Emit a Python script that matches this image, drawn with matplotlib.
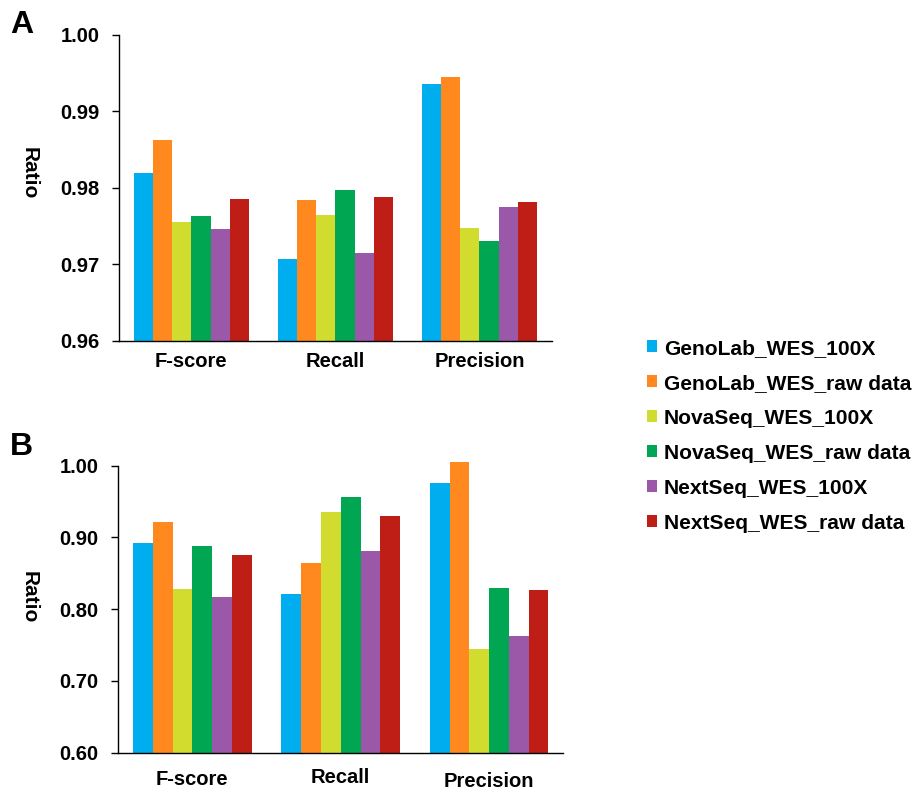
import numpy as np
import matplotlib.pyplot as plt
from matplotlib.patches import Patch
from matplotlib.transforms import ScaledTranslation

plt.rcParams['font.family'] = ['Liberation Sans', 'DejaVu Sans']
plt.rcParams['font.weight'] = 'bold'

metrics = ['F-score', 'Recall', 'Precision']
platforms = ['GenoLab_WES_100X', 'GenoLab_WES_raw data',
             'NovaSeq_WES_100X', 'NovaSeq_WES_raw data',
             'NextSeq_WES_100X', 'NextSeq_WES_raw data']
colors = ['#00AEEF', '#FF891F', '#D1DC2E', '#00A651', '#9B57A8', '#BE1E16']

# panel A: values per platform, ordered F-score, Recall, Precision
snv_ratio = [
    [0.9820, 0.9707, 0.9936],
    [0.9863, 0.9784, 0.9945],
    [0.9755, 0.9764, 0.9747],
    [0.9763, 0.9797, 0.9731],
    [0.9746, 0.9715, 0.9775],
    [0.9785, 0.9788, 0.9782],
]
# panel B
indel_ratio = [
    [0.8927, 0.8216, 0.9763],
    [0.9219, 0.8643, 1.0051],
    [0.8281, 0.9354, 0.7440],
    [0.8885, 0.9563, 0.8300],
    [0.8174, 0.8811, 0.7621],
    [0.8755, 0.9303, 0.8272],
]

W, H = 919, 789
fig = plt.figure(figsize=(W / 100, H / 100), dpi=100)


def px_axes(left, right, top, bottom):
    return fig.add_axes([left / W, 1 - bottom / H, (right - left) / W, (bottom - top) / H])


def draw_panel(ax, data, ylim, yticks, label_pad):
    x = np.arange(len(metrics))
    width = 0.8 / len(platforms)
    for i, vals in enumerate(data):
        ax.bar(x + (i - 2.5) * width, np.array(vals) - ylim[0], width,
               bottom=ylim[0], color=colors[i], clip_on=False)
    ax.set_xlim(-0.5, 2.5)
    ax.set_ylim(*ylim)
    ax.set_yticks(yticks)
    ax.set_yticklabels(['%.2f' % t for t in yticks])
    ax.set_xticks(x)
    ax.set_xticklabels(metrics)
    ax.tick_params(axis='x', length=0, labelsize=14.5, pad=label_pad)
    ax.tick_params(axis='y', length=5, width=1, labelsize=14.5, pad=9, direction='out')
    for s in ['top', 'right']:
        ax.spines[s].set_visible(False)
    for s in ['left', 'bottom']:
        ax.spines[s].set_linewidth(1.0)


ax1 = px_axes(119.3, 551.5, 34.7, 341)
draw_panel(ax1, snv_ratio, (0.96, 1.00), [0.96, 0.97, 0.98, 0.99, 1.00], 7.6)

ax2 = px_axes(118.2, 563.3, 465.7, 752.7)
draw_panel(ax2, indel_ratio, (0.60, 1.00), [0.60, 0.70, 0.80, 0.90, 1.00], 12.8)
# "Recall" sits a bit higher and "Precision" a bit lower in panel B
for lbl, dy in zip(ax2.get_xticklabels(), [0, 1.5, -0.8]):
    lbl.set_transform(lbl.get_transform() + ScaledTranslation(0, dy / 72, fig.dpi_scale_trans))

fig.text(29 / W, 1 - 173 / H, 'Ratio', rotation=270, fontsize=15, ha='center', va='center')
fig.text(29 / W, 1 - 597 / H, 'Ratio', rotation=270, fontsize=15, ha='center', va='center')
fig.text(21.5 / W, 1 - 25 / H, 'A', fontsize=23, ha='center', va='center')
fig.text(21.5 / W, 1 - 447 / H, 'B', fontsize=23, ha='center', va='center')

handles = [Patch(facecolor=c, edgecolor='none') for c in colors]
fig.legend(handles, platforms, loc='upper left', bbox_to_anchor=(628 / W, 1 - 320 / H),
           frameon=False, fontsize=15.1, handlelength=0.5, handleheight=0.5,
           handletextpad=0.3, labelspacing=0.76)

fig.savefig('out.png', dpi=100)
